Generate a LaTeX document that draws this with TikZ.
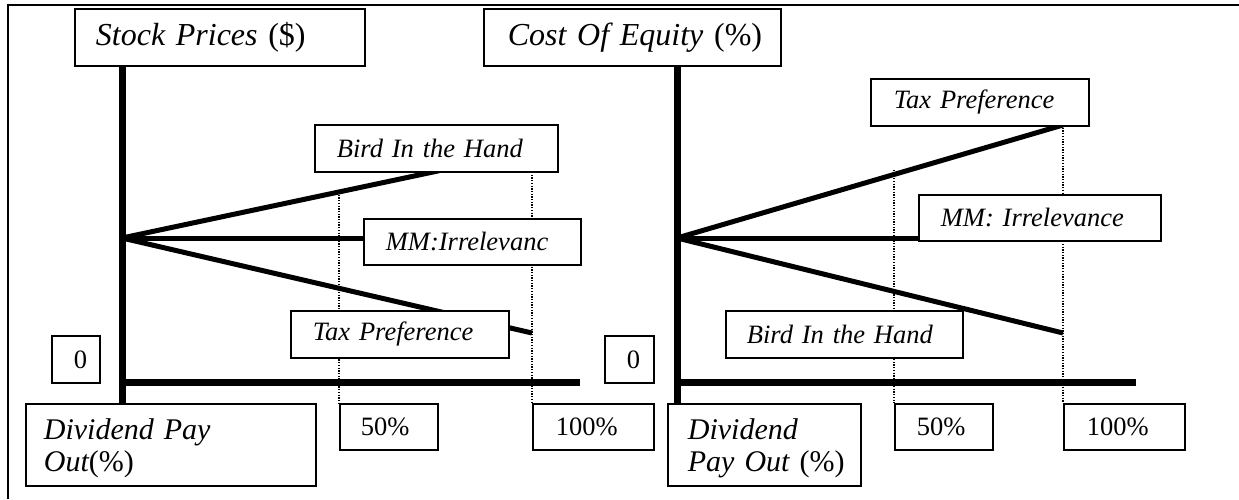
\documentclass[tikz,border=0pt]{standalone}
\usepackage{fontspec}
\setmainfont{Liberation Serif}
\usetikzlibrary{backgrounds}
\begin{document}
\begin{tikzpicture}[x=1pt,y=-1pt,
  lbl/.style={draw,line width=1.8pt,fill=white,anchor=north west,inner xsep=0pt,inner ysep=0pt,align=left,
    font=\fontsize{26.5}{30}\selectfont\itshape},
  num/.style={lbl,font=\fontsize{26.5}{30}\selectfont},
  hdr/.style={lbl,font=\fontsize{32}{36}\selectfont\itshape},
  div/.style={lbl,font=\fontsize{30}{32}\selectfont\itshape},
  bx/.style n args={2}{text width=#1,minimum height=#2},
  axisline/.style={line width=7pt},
  fan/.style={line width=5pt},
  dots/.style={line width=1.3pt,dash pattern=on 1.3pt off 1.4pt},
  frameline/.style={line width=1.5pt}]
\useasboundingbox (0,0) rectangle (1239,499);
% ---------- left chart ----------
\node[hdr,bx={290pt}{57pt}] (StockL) at (74,8) {\hspace*{21pt}Stock Prices \upshape(\$)};
\node[lbl,bx={243pt}{47pt}] (BirdL) at (314,124) {\hspace*{22pt}Bird In the Hand};
\node[lbl,bx={217pt}{46pt}] (MML) at (363,218) {\hspace*{22pt}MM:Irrelevanc};
\node[lbl,bx={218pt}{47pt}] (TaxL) at (290,310) {\hspace*{22pt}Tax Preference};
\node[num,bx={48pt}{47pt}] (ZeroL) at (51,335) {\hspace*{22pt}0};
\node[div,bx={290pt}{82pt}] (DivL) at (25,403)
  {\rule{0pt}{28.5pt}\hspace*{18pt}Dividend Pay\\\hspace*{18pt}Out\upshape(\%)};
\node[num,bx={98pt}{46pt}] (F50L) at (339,403) {\hspace*{21pt}50\%};
\node[num,bx={121pt}{46pt}] (F100L) at (532,403) {\hspace*{23pt}100\%};
% ---------- right chart ----------
\node[hdr,bx={297pt}{57pt}] (CostR) at (483,8) {\hspace*{24pt}Cost Of Equity \upshape(\%)};
\node[lbl,bx={218pt}{47pt}] (TaxR) at (870,78) {\hspace*{23pt}Tax Preference};
\node[lbl,bx={242pt}{46pt}] (MMR) at (918,194) {\hspace*{22pt}MM: Irrelevance};
\node[lbl,bx={237pt}{47pt}] (BirdR) at (725,310) {\hspace*{21pt}Bird In the Hand};
\node[num,bx={49pt}{47pt}] (ZeroR) at (604,335) {\hspace*{22pt}0};
\node[div,bx={193pt}{82pt}] (DivR) at (667,403)
  {\rule{0pt}{28.5pt}\hspace*{20pt}Dividend\\\hspace*{20pt}Pay Out \upshape(\%)};
\node[num,bx={98pt}{46pt}] (F50R) at (894,403) {\hspace*{22pt}50\%};
\node[num,bx={121pt}{46pt}] (F100R) at (1063,403) {\hspace*{23pt}100\%};
% ---------- coordinates ----------
\coordinate (O1) at (122,238);
\coordinate (A1) at (122,382);
\coordinate (A1e) at (580,382);
\coordinate (B1) at (532,151);
\coordinate (T1) at (532,333);
\coordinate (D50L) at (339,192);
\coordinate (D100L) at (532,172);
\coordinate (O2) at (677,238);
\coordinate (A2) at (677,382);
\coordinate (A2e) at (1136,382);
\coordinate (T2) at (1063,125);
\coordinate (M2) at (1063,238);
\coordinate (B2) at (1063,333);
\coordinate (D50R) at (894,170);
\coordinate (FrBL) at (8,499);
\coordinate (FrTL) at (8,5);
\coordinate (FrTR) at (1239,5);
\begin{scope}[on background layer]
  \draw[frameline] (FrBL) -- (FrTL) -- (FrTR);
  % left
  \draw[axisline] (StockL.south -| O1) -- (DivL.north -| O1);
  \draw[axisline] (A1) -- (A1e);
  \draw[fan] (O1) -- (B1);
  \draw[fan] (O1) -- (O1 -| MML.west);
  \draw[fan] (O1) -- (T1);
  \draw[dots] (D50L) -- (F50L.north west);
  \draw[dots] (D100L) -- (F100L.north west);
  % right
  \draw[axisline] (CostR.south -| O2) -- (DivR.north -| O2);
  \draw[axisline] (A2) -- (A2e);
  \draw[fan] (O2) -- (T2);
  \draw[fan] (O2) -- (M2);
  \draw[fan] (O2) -- (B2);
  \draw[dots] (D50R) -- (F50R.north west);
  \draw[dots] (T2) -- (F100R.north west);
\end{scope}
\end{tikzpicture}
\end{document}
